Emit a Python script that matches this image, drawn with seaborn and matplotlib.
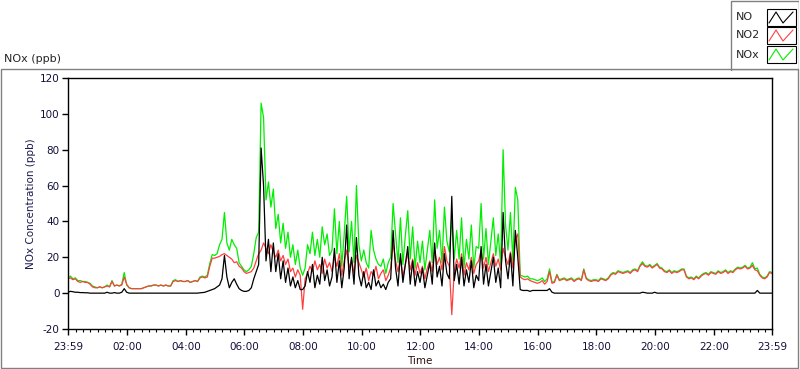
import numpy as np
import pandas as pd
import seaborn as sns
import matplotlib.pyplot as plt
import matplotlib.dates as mdates
from matplotlib.patches import Rectangle

# 5-minute readings, 23:59 -> 23:59 next day (12 values per hour row)
no2 = [
    8, 8.5, 7.5, 8, 6.5, 6, 6.5, 6, 6, 5, 3.5, 3,
    3, 3.5, 3, 3.5, 4, 3.5, 6.5, 4, 4.5, 4, 4.5, 9,
    5, 3, 2.5, 2.5, 2.5, 2.5, 2.5, 3, 3.5, 4, 4, 4.5,
    4.5, 4, 4.5, 4, 4.5, 4, 4, 6.5, 7, 6.5, 7, 6.5,
    6.5, 7, 6, 6.5, 7, 6.5, 8.5, 9, 8.5, 9, 15, 19.5,
    19.5, 20, 20.5, 21.5, 22, 21, 20, 19, 17, 17.5, 15, 14,
    12, 11, 11.5, 12, 14, 18, 22, 24, 28, 25, 22, 27,
    23, 20, 24, 18, 21, 16, 19, 12, 14, 9, 13, 10,
    -9, 8, 11, 15, 12, 18, 13, 16, 11, 19, 14, 17,
    12, 20, 15, 22, 10, 18, 24, 14, 19, 11, 21, 17,
    13, 9, 14, 7, 12, 10, 15, 8, 11, 13, 7, 10,
    14, 28, 18, 12, 20, 9, 16, 22, 13, 19, 10, 17,
    11, 15, 8, 14, 18, 12, 24, 16, 20, 13, 26, 18,
    15, -12, 12, 19, 14, 22, 10, 17, 13, 20, 11, 16,
    18, 24, 14, 20, 12, 17, 22, 15, 19, 13, 25, 20,
    16, 23, 14, 30, 33, 9, 8, 7.5, 8, 7, 6.5, 6,
    5.5, 6, 7, 5, 6.5, 12, 5.5, 6, 10, 7, 7.5, 8,
    7, 7.5, 8, 6.5, 7.5, 8, 7, 13, 8, 7, 6.5, 7,
    7, 6.5, 8, 7.5, 7, 8, 10, 11, 10.5, 12, 11.5, 11,
    11.5, 12, 11, 12.5, 13, 12, 15, 16.5, 15, 14.5, 15.5, 14,
    15, 16, 14, 13.5, 12, 11.5, 12.5, 11, 12, 11.5, 12, 13,
    13, 9, 8, 8.5, 7.5, 9, 8, 9.5, 10.5, 11, 10, 11.5,
    11, 10.5, 12, 11, 11.5, 12.5, 11, 12, 11.5, 13, 14, 13.5,
    14, 15, 13.5, 14, 15.5, 13, 12.5, 10, 8.5, 8, 9, 11.5,
    11,
]

no = [
    0.5, 1, 0.8, 0.5, 0.5, 0.3, 0.3, 0.2, 0.2, 0, 0, 0,
    0, 0, 0, 0, 0.5, 0, 0, 0.3, 0, 0, 0.5, 2.5,
    0.5, 0, 0, 0, 0, 0, 0, 0, 0, 0, 0, 0,
    0, 0, 0, 0, 0, 0, 0, 0, 0, 0, 0, 0,
    0, 0, 0, 0, 0, 0, 0.2, 0.3, 0.5, 1, 1.5, 2,
    2.5, 3.5, 4.5, 8, 21, 9, 3, 6, 8, 5, 2.5, 1.5,
    1, 1, 1.5, 3, 8, 12, 16, 81, 60, 18, 30, 12,
    28, 12, 22, 8, 18, 6, 14, 4, 9, 3, 7, 2,
    2, 4, 12, 6, 16, 3, 10, 5, 20, 7, 13, 4,
    9, 25, 6, 18, 3, 14, 38, 8, 20, 5, 31, 10,
    4, 12, 3, 6, 2, 13, 4, 7, 3, 5, 2, 6,
    8, 35, 14, 4, 22, 6, 16, 26, 5, 18, 4, 12,
    6, 14, 3, 10, 17, 5, 28, 9, 15, 4, 22, 11,
    8, 54, 7, 16, 5, 20, 4, 13, 6, 18, 3, 10,
    7, 26, 5, 16, 4, 12, 20, 6, 14, 3, 45, 18,
    8, 22, 4, 35, 20, 2, 1.5, 1.5, 1.5, 1, 1.5, 1.5,
    1.5, 1.5, 1.5, 1.5, 1.5, 2.5, 0.5, 0, 0, 0, 0, 0,
    0, 0, 0, 0, 0, 0, 0, 0, 0, 0, 0, 0,
    0, 0, 0, 0, 0, 0, 0, 0, 0, 0, 0, 0,
    0, 0, 0, 0, 0, 0, 0, 0.5, 0.3, 0, 0, 0,
    0.5, 0, 0, 0, 0, 0, 0, 0, 0, 0, 0, 0,
    0, 0, 0, 0, 0, 0, 0, 0, 0, 0, 0, 0,
    0, 0, 0, 0, 0, 0, 0, 0, 0, 0, 0, 0,
    0, 0, 0, 0, 0, 0, 1.5, 0, 0, 0, 0, 0,
    0,
]

nox = [
    8.5, 9.5, 8, 8.5, 7, 7, 6.5, 6.5, 6, 5.5, 4, 3.5,
    3, 3.5, 3, 3.5, 4.5, 3.5, 7, 4, 4.5, 4, 5, 11.5,
    4.5, 3, 2.5, 2.5, 2.5, 2.5, 2.5, 3, 3.5, 4, 4, 4.5,
    4.5, 4, 4.5, 4, 4.5, 4, 4, 7, 7.5, 6.5, 7, 6.5,
    6.5, 7, 6, 6.5, 7, 6.5, 9, 9.5, 9, 10, 16.5, 21.5,
    21, 22, 27, 30, 45, 28, 24, 30, 27, 25, 17, 15,
    13, 12, 13, 15, 22, 31, 34, 106, 98, 52, 62, 48,
    58, 36, 44, 28, 39, 25, 34, 20, 27, 16, 24, 14,
    10, 14, 27, 22, 34, 21, 30, 20, 37, 27, 33, 21,
    24, 47, 22, 40, 15, 33, 54, 23, 40, 17, 60, 27,
    18, 24, 17, 14, 35, 24, 19, 16, 15, 19, 11, 17,
    20, 50, 33, 17, 42, 16, 32, 46, 19, 37, 14, 29,
    17, 29, 13, 24, 35, 17, 52, 25, 35, 17, 48, 29,
    23, 42, 19, 35, 19, 42, 14, 30, 19, 38, 14, 26,
    25, 50, 19, 36, 16, 29, 42, 21, 33, 16, 80, 38,
    24, 45, 18, 59, 52, 10, 9.5, 9, 9.5, 8, 8, 7.5,
    7, 7.5, 8.5, 6.5, 8, 13.5, 6, 6.5, 10.5, 7.5, 8, 8.5,
    7.5, 8, 8.5, 7, 8, 8.5, 7.5, 13.5, 8.5, 7.5, 7, 7.5,
    7.5, 7, 8.5, 8, 7.5, 8.5, 10.5, 11.5, 11, 12.5, 12, 11.5,
    12, 12.5, 11.5, 13, 13.5, 12.5, 15.5, 17.5, 15.5, 15, 16, 14.5,
    15.5, 16.5, 14.5, 14, 12.5, 12, 13, 11.5, 12.5, 12, 12.5, 13.5,
    13.5, 9.5, 8.5, 9, 8, 9.5, 8.5, 10, 11, 11.5, 10.5, 12,
    11.5, 11, 12.5, 11.5, 12, 13, 11.5, 12.5, 12, 13.5, 14.5, 14,
    14.5, 15.5, 14, 14.5, 17, 13.5, 14, 10.5, 9, 8.5, 9.5, 12,
    11.5,
]

series_names = ['NO', 'NO2', 'NOx']
series_colors = ['#000000', '#ff4040', '#00ee00']
y_ticks = [-20, 0, 20, 40, 60, 80, 100, 120]

t0 = pd.Timestamp('2014-01-01 23:59')
t1 = pd.Timestamp('2014-01-02 23:59')
times = pd.date_range(t0, periods=len(no2), freq='5min')

df = pd.DataFrame({'Time': times, 'NO': no, 'NO2': no2, 'NOx': nox})
long_df = df.melt(id_vars='Time', var_name='series', value_name='ppb')

sns.set_style('white')
plt.rcParams['font.family'] = ['DejaVu Sans']

fig = plt.figure(figsize=(8, 3.69), dpi=100)
ax = fig.add_axes([68 / 800, 1 - 329 / 369, 704 / 800, 251 / 369])

# green at the back, black on top
sns.lineplot(data=long_df, x='Time', y='ppb', hue='series',
             hue_order=['NOx', 'NO2', 'NO'],
             palette=dict(zip(series_names, series_colors)),
             estimator=None, linewidth=0.9, legend=False, ax=ax)

ax.set_xlim(t0, t1)
ax.set_ylim(-20, 120)
ax.set_yticks(y_ticks)
ax.set_yticklabels([str(v) for v in y_ticks], fontsize=7.5, color='#10103a')

major = [t0] + list(pd.date_range('2014-01-02 02:00', '2014-01-02 22:00', freq='2h')) + [t1]
ax.set_xticks(major)
ax.set_xticklabels([m.strftime('%H:%M') for m in major], fontsize=7.5, color='#10103a')
minor = pd.date_range('2014-01-02 00:15', '2014-01-02 23:45', freq='15min')
ax.set_xticks(minor, minor=True)
ax.tick_params(axis='both', which='major', direction='out', length=4, width=1,
               color='black', pad=2, bottom=True, left=True)
ax.tick_params(axis='x', which='major', pad=5)
ax.tick_params(axis='x', which='minor', direction='out', length=2.5, width=0.8,
               color='black', bottom=True)

for s in ax.spines.values():
    s.set_color('black')
    s.set_linewidth(1.0)

ax.set_ylabel('NOx Concentration (ppb)', fontsize=7.5, color='#1a1a50', labelpad=3)
ax.set_xlabel('Time', fontsize=7.5, color='#301010', labelpad=3)

# outer panel and title
fig.patches.append(Rectangle((1 / 800, 1 / 369), 797 / 800, 299 / 369,
                             transform=fig.transFigure, fill=False,
                             edgecolor='#808080', linewidth=1))
fig.text(4 / 800, 1 - 59 / 369, 'NOx (ppb)', fontsize=8, va='center', ha='left')

# legend panel with zigzag swatches
lax = fig.add_axes([730 / 800, 1 - 71 / 369, 69 / 800, 71 / 369])
lax.set_xlim(730, 799)
lax.set_ylim(71, 0)
lax.axis('off')
lax.add_patch(Rectangle((730.5, 0.5), 68, 70, fill=False, edgecolor='#808080', linewidth=1))
rows = [(9, 26), (27, 44), (46, 63)]
for (top, bot), name, col in zip(rows, series_names, series_colors):
    lax.text(736, (top + bot) / 2, name, fontsize=8, va='center', ha='left')
    lax.add_patch(Rectangle((767, top), 29, bot - top, fill=False,
                            edgecolor='black', linewidth=0.8))
    lax.plot([769, 776, 783, 793], [bot - 3, top + 3, bot - 3, top + 3], color=col, linewidth=0.8)

fig.savefig('out.png', dpi=100)
